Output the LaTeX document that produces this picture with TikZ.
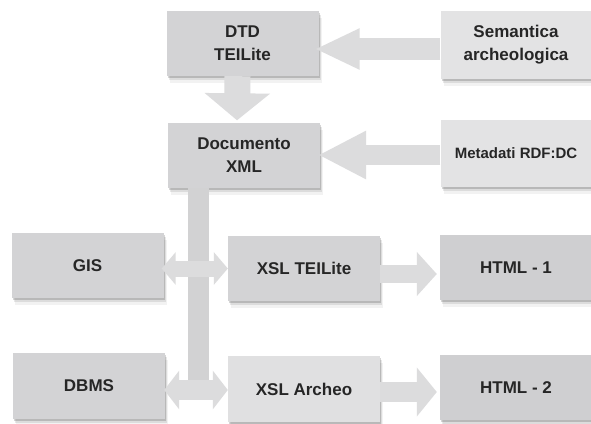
\documentclass[tikz,border=0pt]{standalone}
\usepackage{fontspec}
\setmainfont{Liberation Sans}
\usetikzlibrary{shadows,arrows.meta,calc}
\definecolor{boxg}{HTML}{D3D3D5}
\definecolor{boxh}{HTML}{CFCFD1}
\definecolor{boxl}{HTML}{E3E3E4}
\definecolor{boxa}{HTML}{E0E0E1}
\definecolor{arrg}{HTML}{DCDCDD}
\definecolor{barg}{HTML}{D2D2D3}
\definecolor{txt}{HTML}{262626}
\begin{document}
\begin{tikzpicture}[x=1pt,y=-1pt,
  softshadow/.style={
    drop shadow={shadow xshift=1pt, shadow yshift=-2pt, opacity=.16, fill=black},
    drop shadow={shadow xshift=2pt, shadow yshift=-4pt, opacity=.09, fill=black},
    drop shadow={shadow xshift=3pt, shadow yshift=-7pt, opacity=.05, fill=black}},
  box/.style={softshadow, fill=#1, minimum width=152pt, minimum height=65pt,
    inner sep=0pt, align=center, text=txt,
    font=\fontsize{17}{23}\selectfont\bfseries},
  box/.default=boxg,
  fat/.style n args={3}{draw=arrg, line width=#1,
    -{Triangle[length=#3, width=#2]}},
  dfat/.style n args={3}{draw=arrg, line width=#1,
    {Triangle[length=#3, width=#2]}-{Triangle[length=#3, width=#2]}}]
\useasboundingbox[fill=white] (0,0) rectangle (591,423);

% boxes
\node[box] (dtd) at (242.5,43.5) {DTD\\TEILite};
\node[box=boxl, minimum width=151pt, minimum height=68pt] (sem) at (516,45) {Semantica\\archeologica};
\node[box] (doc) at (244,155) {Documento\\XML};
\node[box=boxl, minimum width=151pt, minimum height=67pt, font=\fontsize{15}{18}\selectfont\bfseries] (meta) at (516,153.5) {Metadati RDF:DC};
\node[box] (gis) at (87.5,265.5) {GIS};
\node[box] (xslt) at (304,268.5) {XSL TEILite};
\node[box=boxh] (html1) at (516,267.5) {HTML - 1};
\node[box, minimum height=66pt] (dbms) at (89,386) {DBMS};
\node[box=boxa, minimum height=66pt] (xsla) at (304,389) {XSL Archeo};
\node[box=boxh] (html2) at (516,387.5) {HTML - 2};

% vertical bus from Documento XML
\coordinate (busx) at (198.5,0);
\coordinate (busend) at (198.5,399);
\draw[draw=barg, line width=21pt] (doc.south -| busx) -- (busend);

% arrows
\draw[fat={22pt}{38pt}{45pt}, shorten >=-4pt] ($(sem.west)+(0,4)$) -- ($(dtd.east)+(0,5.5)$);
\draw[fat={20pt}{45pt}{48pt}, shorten >=-2pt] (meta.west |- doc.east) -- (doc.east);
\draw[fat={26pt}{64pt}{27pt}, shorten >=2pt] ($(dtd.south)+(-5,0)$) -- ($(doc.north)+(-7,0)$);
\draw[dfat={16pt}{32pt}{14pt}, shorten <=-2pt] (gis.east |- xslt.west) -- (xslt.west);
\draw[dfat={20pt}{38pt}{15pt}, shorten <=-1pt] ($(dbms.east |- xsla.west)+(0,1)$) -- ($(xsla.west)+(0,1)$);
\draw[fat={18pt}{43pt}{20pt}, shorten >=3pt] ($(xslt.east)+(0,5.5)$) -- ($(html1.west |- xslt.east)+(0,5.5)$);
\draw[fat={20pt}{48pt}{20pt}, shorten >=3pt] ($(xsla.east)+(0,3)$) -- ($(html2.west |- xsla.east)+(0,3)$);
\end{tikzpicture}
\end{document}
